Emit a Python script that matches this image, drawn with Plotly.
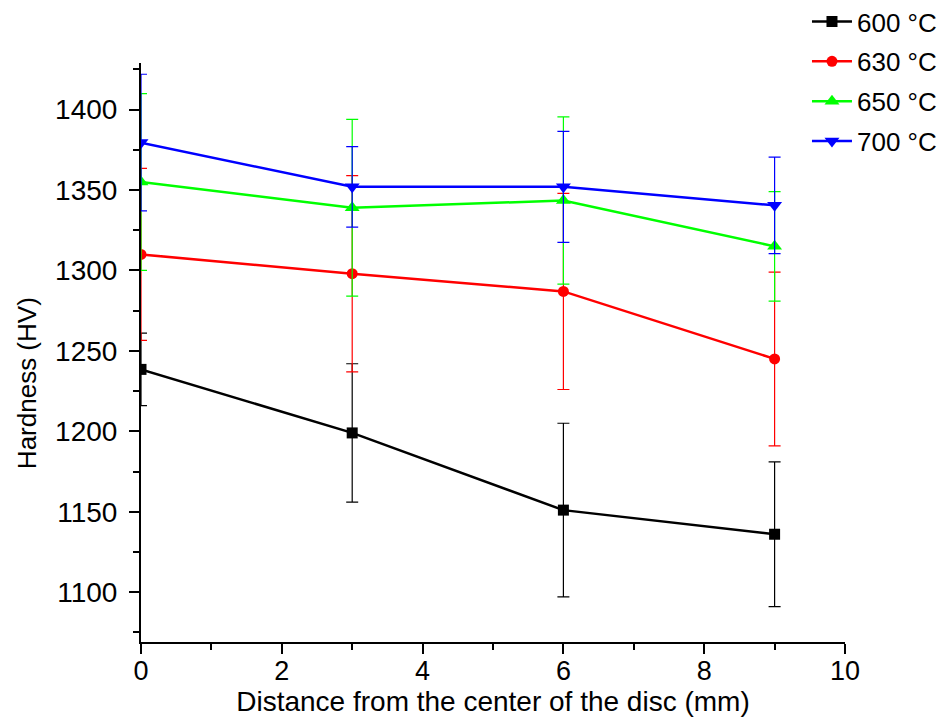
import plotly.graph_objects as go

distance = [0, 3, 6, 9]
series_names = ["600 °C", "630 °C", "650 °C", "700 °C"]
h600 = [1238.5, 1199, 1151, 1136]
e600 = [22.5, 43, 54, 45]
h630 = [1310, 1298, 1287, 1245]
e630 = [53.5, 61, 61, 54]
h650 = [1355, 1339, 1343.5, 1315]
e650 = [55, 55, 52, 34]
h700 = [1379.5, 1352, 1352, 1340.5]
e700 = [42.5, 25, 34.5, 30]

colors = ["#000000", "#ff0000", "#00ff00", "#0000ff"]
symbols = ["square", "circle", "triangle-up", "triangle-down"]
sizes = [11, 11, 13, 13]
values = [h600, h630, h650, h700]
errors = [e600, e630, e650, e700]

FONT = "Liberation Sans, Arial, sans-serif"

fig = go.Figure()
for i in range(4):
    fig.add_trace(go.Scatter(
        x=distance, y=values[i], name=series_names[i],
        mode="lines+markers",
        legendgroup=f"g{i}",
        line=dict(color=colors[i], width=2.5),
        marker=dict(symbol=symbols[i], size=sizes[i], color=colors[i]),
        error_y=dict(type="data", array=errors[i], visible=True,
                     color=colors[i], thickness=1.2, width=6),
    ))

fig.update_layout(
    width=948, height=721,
    paper_bgcolor="white", plot_bgcolor="white",
    margin=dict(l=133, r=111, t=55, b=87, autoexpand=False),
    font=dict(family=FONT, color="black"),
    showlegend=True,
    legend=dict(x=0.946, y=1.112, xanchor="left", yanchor="top",
                font=dict(size=26, family=FONT), bgcolor="rgba(0,0,0,0)",
                tracegroupgap=3, itemwidth=40),
    xaxis=dict(range=[0, 10], dtick=2, tick0=0, automargin=False,
               showline=True, linecolor="black", linewidth=2,
               ticks="outside", ticklen=10, tickwidth=2, tickcolor="black",
               minor=dict(ticks="outside", ticklen=6, tickwidth=2, dtick=1, tickcolor="black"),
               showgrid=False, zeroline=False,
               ticklabelstandoff=-6,
               tickfont=dict(size=27, family=FONT),
               title=dict(text="Distance from the center of the disc (mm)",
                          font=dict(size=28, family=FONT), standoff=4)),
    yaxis=dict(range=[1069, 1429], dtick=50, tick0=1100, automargin=False,
               showline=True, linecolor="black", linewidth=2,
               ticks="outside", ticklen=10, tickwidth=2, tickcolor="black",
               minor=dict(ticks="outside", ticklen=6, tickwidth=2, dtick=25, tickcolor="black"),
               showgrid=False, zeroline=False,
               ticklabelstandoff=6,
               tickfont=dict(size=28, family=FONT)),
    annotations=[dict(text="Hardness (HV)", textangle=-90, showarrow=False,
                      xref="paper", yref="paper", x=-0.162, y=0.447,
                      xanchor="center", yanchor="middle",
                      font=dict(size=26, family=FONT))],
)

fig.write_html("out.html")
